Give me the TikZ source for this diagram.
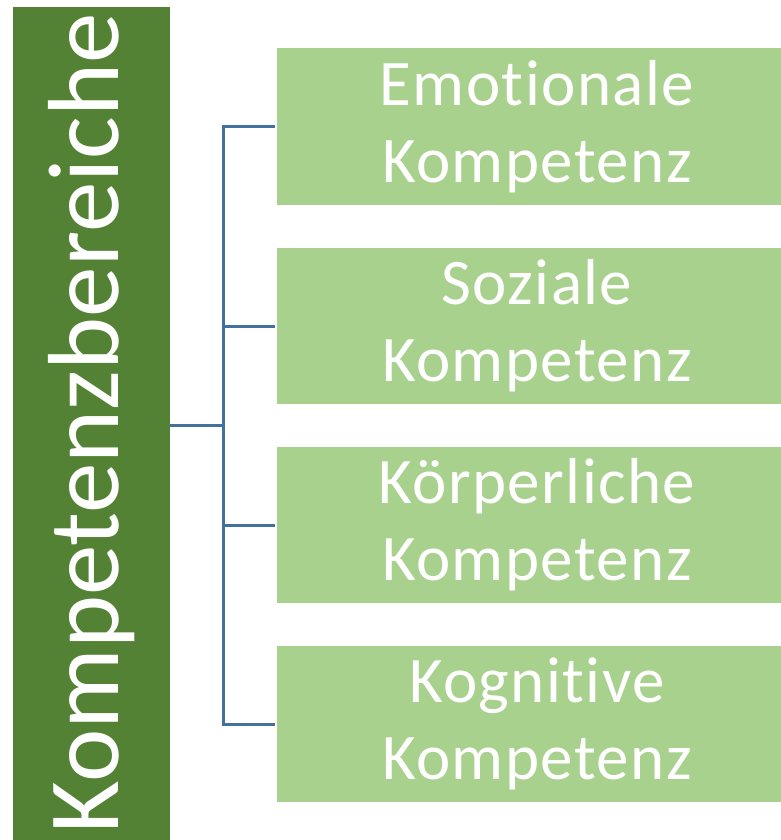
\documentclass[tikz,border=0pt]{standalone}
\usepackage{fontspec}
\setmainfont{Carlito}[Ligatures={NoCommon,NoRequired,NoContextual}]
\usepackage{tikz}
\usetikzlibrary{positioning}
\definecolor{darkgreen}{HTML}{548235}
\definecolor{lightgreen}{HTML}{A9D18E}
\definecolor{linkblue}{HTML}{41719C}
\tikzset{
    rootbox/.style={fill=darkgreen, text=white, inner sep=0pt, minimum width=157pt, minimum height=833pt},
    areabox/.style={fill=lightgreen, text=white, inner sep=0pt, minimum width=520pt, minimum height=156pt, align=center, font=\fontsize{65}{77}\selectfont\addfontfeatures{LetterSpace=2.2}},
    link/.style={linkblue, line width=3pt}
}

\begin{document}
\begin{tikzpicture}[x=1pt, y=-1pt]
    % cadre de la page
    \useasboundingbox (0,0) rectangle (781,840);
    % bloc principal
    \node[rootbox] (root) at (91.5,423.5) {};
    \node[rotate=90, text=white, font=\fontsize{101}{110}\selectfont] (rootlabel) at (root.center) {Kompetenzbereiche};
    % domaines
    \node[areabox] (emo) at (537,126.5) {Emotionale\\Kompetenz};
    \node[areabox] (soz) at (537,326) {Soziale\\Kompetenz};
    \node[areabox] (koe) at (537,525) {Körperliche\\Kompetenz};
    \node[areabox] (kog) at (537,724) {Kognitive\\Kompetenz};
    % liens
    \coordinate (fork) at (223,425);
\begin{scope}[link]
    \draw (root.east |- fork) -- (fork);
    \draw[shorten >=2pt] (fork) |- (emo.west);
    \draw[shorten >=2pt] (fork) |- (soz.west);
    \draw[shorten >=2pt] (fork) |- (koe.west);
    \draw[shorten >=2pt] (fork) |- (kog.west);
\end{scope}
\end{tikzpicture}
\end{document}
